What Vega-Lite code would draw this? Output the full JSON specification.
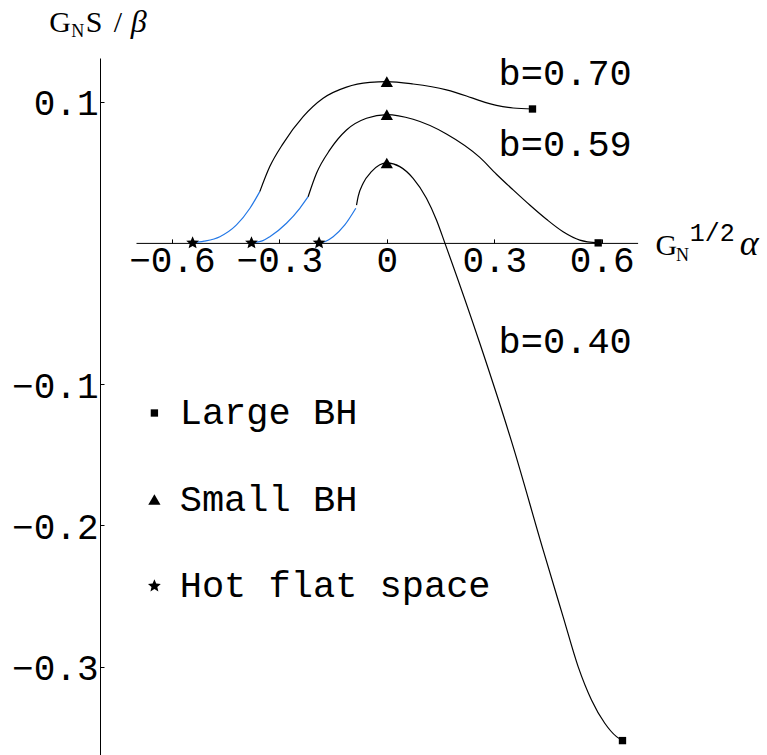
{
  "$schema": "https://vega.github.io/schema/vega-lite/v6.json",
  "width": 501.6,
  "height": 697,
  "autosize": {"type": "none"},
  "padding": {"left": 136, "top": 58, "right": 129.4, "bottom": 0},
  "background": "white",
  "config": {"view": {"stroke": null}, "font": "Liberation Mono"},
  "datasets": {
    "curves": [
      {"seg": "0.70 blue", "part": "blue", "x": -0.542, "y": 0},
      {"seg": "0.70 blue", "part": "blue", "x": -0.51, "y": 0.0012},
      {"seg": "0.70 blue", "part": "blue", "x": -0.466, "y": 0.0044},
      {"seg": "0.70 blue", "part": "blue", "x": -0.4195, "y": 0.0127},
      {"seg": "0.70 blue", "part": "blue", "x": -0.382, "y": 0.0245},
      {"seg": "0.70 blue", "part": "blue", "x": -0.3545, "y": 0.0363},
      {"seg": "0.70 black", "part": "black", "x": -0.3545, "y": 0.0363},
      {"seg": "0.70 black", "part": "black", "x": -0.3266, "y": 0.054},
      {"seg": "0.70 black", "part": "black", "x": -0.289, "y": 0.0705},
      {"seg": "0.70 black", "part": "black", "x": -0.2335, "y": 0.0894},
      {"seg": "0.70 black", "part": "black", "x": -0.1778, "y": 0.1024},
      {"seg": "0.70 black", "part": "black", "x": -0.1125, "y": 0.1103},
      {"seg": "0.70 black", "part": "black", "x": -0.0474, "y": 0.1136},
      {"seg": "0.70 black", "part": "black", "x": 0, "y": 0.1142},
      {"seg": "0.70 black", "part": "black", "x": 0.0735, "y": 0.1125},
      {"seg": "0.70 black", "part": "black", "x": 0.1665, "y": 0.1083},
      {"seg": "0.70 black", "part": "black", "x": 0.2224, "y": 0.104},
      {"seg": "0.70 black", "part": "black", "x": 0.2596, "y": 0.1007},
      {"seg": "0.70 black", "part": "black", "x": 0.306, "y": 0.0973},
      {"seg": "0.70 black", "part": "black", "x": 0.3526, "y": 0.0955},
      {"seg": "0.70 black", "part": "black", "x": 0.4066, "y": 0.0948},
      {"seg": "0.59 blue", "part": "blue", "x": -0.3777, "y": 0},
      {"seg": "0.59 blue", "part": "blue", "x": -0.35, "y": 0.0012},
      {"seg": "0.59 blue", "part": "blue", "x": -0.3266, "y": 0.0044},
      {"seg": "0.59 blue", "part": "blue", "x": -0.28, "y": 0.0139},
      {"seg": "0.59 blue", "part": "blue", "x": -0.2428, "y": 0.0245},
      {"seg": "0.59 blue", "part": "blue", "x": -0.2196, "y": 0.0327},
      {"seg": "0.59 black", "part": "black", "x": -0.2196, "y": 0.0327},
      {"seg": "0.59 black", "part": "black", "x": -0.1962, "y": 0.0493},
      {"seg": "0.59 black", "part": "black", "x": -0.159, "y": 0.0658},
      {"seg": "0.59 black", "part": "black", "x": -0.1125, "y": 0.0799},
      {"seg": "0.59 black", "part": "black", "x": -0.0567, "y": 0.0882},
      {"seg": "0.59 black", "part": "black", "x": 0, "y": 0.0908},
      {"seg": "0.59 black", "part": "black", "x": 0.0735, "y": 0.0875},
      {"seg": "0.59 black", "part": "black", "x": 0.1665, "y": 0.0771},
      {"seg": "0.59 black", "part": "black", "x": 0.2596, "y": 0.0605},
      {"seg": "0.59 black", "part": "black", "x": 0.306, "y": 0.0486},
      {"seg": "0.59 black", "part": "black", "x": 0.3526, "y": 0.0375},
      {"seg": "0.59 black", "part": "black", "x": 0.399, "y": 0.0268},
      {"seg": "0.59 black", "part": "black", "x": 0.4457, "y": 0.0167},
      {"seg": "0.59 black", "part": "black", "x": 0.492, "y": 0.0079},
      {"seg": "0.59 black", "part": "black", "x": 0.5387, "y": 0.002},
      {"seg": "0.59 black", "part": "black", "x": 0.59, "y": 0},
      {"seg": "0.40 blue", "part": "blue", "x": -0.189, "y": 0},
      {"seg": "0.40 blue", "part": "blue", "x": -0.17, "y": 0.0012},
      {"seg": "0.40 blue", "part": "blue", "x": -0.1498, "y": 0.0044},
      {"seg": "0.40 blue", "part": "blue", "x": -0.1172, "y": 0.0127},
      {"seg": "0.40 blue", "part": "blue", "x": -0.0865, "y": 0.0245},
      {"seg": "0.40 black", "part": "black", "x": -0.0845, "y": 0.0268},
      {"seg": "0.40 black", "part": "black", "x": -0.08, "y": 0.0327},
      {"seg": "0.40 black", "part": "black", "x": -0.066, "y": 0.0422},
      {"seg": "0.40 black", "part": "black", "x": -0.0428, "y": 0.0504},
      {"seg": "0.40 black", "part": "black", "x": -0.0195, "y": 0.0553},
      {"seg": "0.40 black", "part": "black", "x": 0, "y": 0.0566},
      {"seg": "0.40 black", "part": "black", "x": 0.0363, "y": 0.054},
      {"seg": "0.40 black", "part": "black", "x": 0.0735, "y": 0.0457},
      {"seg": "0.40 black", "part": "black", "x": 0.1107, "y": 0.0316},
      {"seg": "0.40 black", "part": "black", "x": 0.1386, "y": 0.0162},
      {"seg": "0.40 black", "part": "black", "x": 0.1619, "y": 0},
      {"seg": "0.40 black", "part": "black", "x": 0.2596, "y": -0.0711},
      {"seg": "0.40 black", "part": "black", "x": 0.3526, "y": -0.1443},
      {"seg": "0.40 black", "part": "black", "x": 0.4363, "y": -0.2174},
      {"seg": "0.40 black", "part": "black", "x": 0.492, "y": -0.2646},
      {"seg": "0.40 black", "part": "black", "x": 0.534, "y": -0.3},
      {"seg": "0.40 black", "part": "black", "x": 0.5713, "y": -0.3236},
      {"seg": "0.40 black", "part": "black", "x": 0.6084, "y": -0.3401},
      {"seg": "0.40 black", "part": "black", "x": 0.6411, "y": -0.3496},
      {"seg": "0.40 black", "part": "black", "x": 0.6578, "y": -0.3524}
    ],
    "markers": [
      {"kind": "Large BH", "x": 0.4066, "y": 0.0948},
      {"kind": "Large BH", "x": 0.59, "y": 0},
      {"kind": "Large BH", "x": 0.6578, "y": -0.3524},
      {"kind": "Small BH", "x": 0, "y": 0.1142},
      {"kind": "Small BH", "x": 0, "y": 0.0908},
      {"kind": "Small BH", "x": 0, "y": 0.0566},
      {"kind": "Hot flat space", "x": -0.542, "y": 0},
      {"kind": "Hot flat space", "x": -0.3777, "y": 0},
      {"kind": "Hot flat space", "x": -0.189, "y": 0}
    ],
    "bLabels": [
      {"t": "b=0.70", "x": 0.312, "y": 0.1118},
      {"t": "b=0.59", "x": 0.312, "y": 0.0615},
      {"t": "b=0.40", "x": 0.312, "y": -0.0782}
    ],
    "serifText": [
      {"t": "G", "x": -0.942, "y": 0.1495},
      {"t": "S", "x": -0.8401, "y": 0.1495},
      {"t": "/", "x": -0.7619, "y": 0.1495},
      {"t": "G", "x": 0.7502, "y": -0.0086}
    ],
    "subText": [
      {"t": "N", "x": -0.8806, "y": 0.146},
      {"t": "N", "x": 0.8071, "y": -0.0126}
    ],
    "supText": [
      {"t": "1/2", "x": 0.8457, "y": 0.0013}
    ],
    "betaText": [
      {"t": "β", "x": -0.7145, "y": 0.1495}
    ],
    "alphaText": [
      {"t": "α", "x": 0.985, "y": -0.0086}
    ]
  },
  "encoding": {
    "x": {
      "field": "x",
      "type": "quantitative",
      "scale": {"domain": [-0.7, 0.7], "nice": false, "zero": false},
      "axis": {
        "orient": "bottom",
        "offset": -512.1,
        "values": [-0.6, -0.3, 0, 0.3, 0.6],
        "format": "~g",
        "title": null,
        "grid": false,
        "domainColor": "#000000",
        "domainWidth": 1,
        "tickColor": "#000000",
        "tickWidth": 1,
        "tickSize": -4,
        "labelFont": "Liberation Mono",
        "labelFontSize": 36,
        "labelColor": "#000000",
        "labelPadding": 5,
        "labelFlush": false,
        "labelOverlap": false,
        "labelBound": false
      }
    },
    "y": {
      "field": "y",
      "type": "quantitative",
      "scale": {"domain": [-0.3626, 0.1309], "nice": false, "zero": false},
      "axis": {
        "orient": "left",
        "offset": 36,
        "values": [-0.3, -0.2, -0.1, 0.1],
        "format": "~g",
        "title": null,
        "grid": false,
        "domainColor": "#000000",
        "domainWidth": 1,
        "tickColor": "#000000",
        "tickWidth": 1,
        "tickSize": -4,
        "labelFont": "Liberation Mono",
        "labelFontSize": 36,
        "labelColor": "#000000",
        "labelPadding": 6,
        "labelOffset": 2,
        "labelFlush": false,
        "labelOverlap": false,
        "labelBound": false
      }
    }
  },
  "layer": [
    {
      "data": {"name": "curves"},
      "mark": {"type": "line", "strokeWidth": 1.2, "interpolate": "monotone"},
      "encoding": {
        "detail": {"field": "seg", "type": "nominal"},
        "color": {
          "field": "part",
          "type": "nominal",
          "scale": {"domain": ["blue", "black"], "range": ["#2277e6", "#000000"]},
          "legend": null
        }
      }
    },
    {
      "data": {"name": "markers"},
      "mark": {"type": "point", "filled": true, "opacity": 1, "color": "#000000", "size": 150, "strokeWidth": 0},
      "encoding": {
        "shape": {
          "field": "kind",
          "type": "nominal",
          "scale": {
            "domain": ["Large BH", "Small BH", "Hot flat space"],
            "range": [
              "M-0.6,-0.6L0.6,-0.6L0.6,0.6L-0.6,0.6Z",
              "triangle-up",
              "M0,-1.1L0.2939,-0.4045L1.0462,-0.3399L0.4755,0.1545L0.6466,0.8899L0,0.5L-0.6466,0.8899L-0.4755,0.1545L-1.0462,-0.3399L-0.2939,-0.4045Z"
            ]
          },
          "legend": {
            "title": null,
            "orient": "none",
            "legendX": -0.1,
            "legendY": 336.5,
            "direction": "vertical",
            "symbolSize": 150,
            "symbolFillColor": "#000000",
            "symbolStrokeWidth": 0,
            "labelFont": "Liberation Mono",
            "labelFontSize": 37,
            "labelColor": "#000000",
            "labelOffset": 6.8,
            "labelLimit": 0,
            "rowPadding": 48.5,
            "padding": 0
          }
        }
      }
    },
    {
      "data": {"name": "bLabels"},
      "mark": {"type": "text", "font": "Liberation Mono", "fontSize": 37, "align": "left", "baseline": "alphabetic", "color": "#000000"},
      "encoding": {"text": {"field": "t"}}
    },
    {
      "data": {"name": "serifText"},
      "mark": {"type": "text", "font": "Liberation Serif", "fontSize": 30, "align": "left", "baseline": "alphabetic", "color": "#000000"},
      "encoding": {"text": {"field": "t"}}
    },
    {
      "data": {"name": "subText"},
      "mark": {"type": "text", "font": "Liberation Serif", "fontSize": 18, "align": "left", "baseline": "alphabetic", "color": "#000000"},
      "encoding": {"text": {"field": "t"}}
    },
    {
      "data": {"name": "supText"},
      "mark": {"type": "text", "font": "Liberation Mono", "fontSize": 25, "align": "left", "baseline": "alphabetic", "color": "#000000"},
      "encoding": {"text": {"field": "t"}}
    },
    {
      "data": {"name": "betaText"},
      "mark": {"type": "text", "font": "Liberation Serif", "fontSize": 32, "fontStyle": "italic", "align": "left", "baseline": "alphabetic", "color": "#000000"},
      "encoding": {"text": {"field": "t"}}
    },
    {
      "data": {"name": "alphaText"},
      "mark": {"type": "text", "font": "Liberation Serif", "fontSize": 36, "fontStyle": "italic", "align": "left", "baseline": "alphabetic", "color": "#000000"},
      "encoding": {"text": {"field": "t"}}
    }
  ]
}
